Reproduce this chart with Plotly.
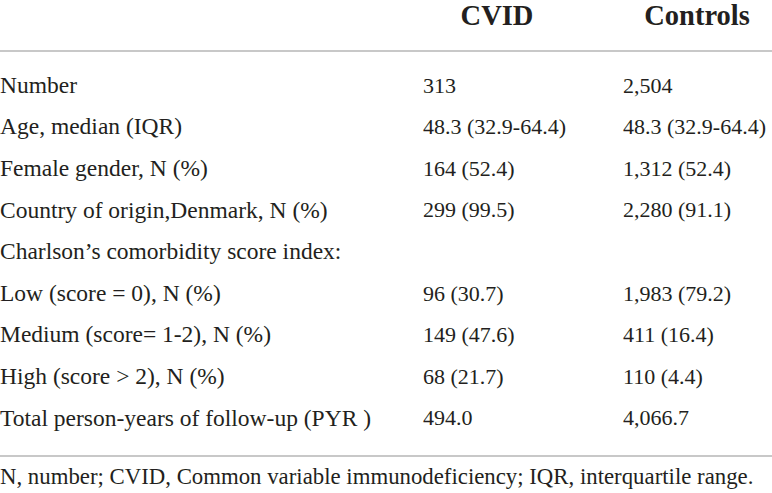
import plotly.graph_objects as go

# table content
columns = ["CVID", "Controls"]
row_labels = [
    "Number",
    "Age, median (IQR)",
    "Female gender, N (%)",
    "Country of origin,Denmark, N (%)",
    "Charlson’s comorbidity score index:",
    "Low (score = 0), N (%)",
    "Medium (score= 1-2), N (%)",
    "High (score > 2), N (%)",
    "Total person-years of follow-up (PYR )",
]
cvid_vals = ["313", "48.3 (32.9-64.4)", "164 (52.4)", "299 (99.5)", "",
             "96 (30.7)", "149 (47.6)", "68 (21.7)", "494.0"]
control_vals = ["2,504", "48.3 (32.9-64.4)", "1,312 (52.4)", "2,280 (91.1)", "",
                "1,983 (79.2)", "411 (16.4)", "110 (4.4)", "4,066.7"]
footnote = "N, number; CVID, Common variable immunodeficiency; IQR, interquartile range."

# layout
W, H = 772, 493
x_label, x_cvid, x_ctrl = 0, 423, 623
col_w = 148
row_top, row_step = 87, 41.6
rows = list(range(len(row_labels)))
y_top = -row_top / row_step
y_bot = (H - row_top) / row_step
def ypix(p):
    return (p - row_top) / row_step

serif = "Liberation Serif, Times New Roman, serif"
label_font = dict(family=serif, size=23.5, color="#231f20")
value_font = dict(family=serif, size=22, color="#231f20")
head_font = dict(family=serif, size=28.5, color="#231f20")

fig = go.Figure()
fig.add_trace(go.Scatter(x=[x_label] * len(rows), y=rows, text=row_labels,
                         mode="text", textposition="middle right",
                         textfont=label_font, hoverinfo="skip", cliponaxis=False))
fig.add_trace(go.Scatter(x=[x_cvid] * len(rows), y=rows, text=cvid_vals,
                         mode="text", textposition="middle right",
                         textfont=value_font, hoverinfo="skip", cliponaxis=False))
fig.add_trace(go.Scatter(x=[x_ctrl] * len(rows), y=rows, text=control_vals,
                         mode="text", textposition="middle right",
                         textfont=value_font, hoverinfo="skip", cliponaxis=False))
# header
fig.add_trace(go.Scatter(x=[x_cvid + col_w / 2, x_ctrl + col_w / 2],
                         y=[ypix(18)] * 2, text=["<b>%s</b>" % c for c in columns],
                         mode="text", textposition="middle center",
                         textfont=head_font, hoverinfo="skip", cliponaxis=False))
# footnote
fig.add_trace(go.Scatter(x=[x_label], y=[ypix(478)], text=[footnote],
                         mode="text", textposition="middle right",
                         textfont=dict(family=serif, size=22.8, color="#231f20"),
                         hoverinfo="skip", cliponaxis=False))

# rules
for yp in [51, 456]:
    fig.add_shape(type="line", xref="paper", x0=0, x1=1, yref="y",
                  y0=ypix(yp), y1=ypix(yp),
                  line=dict(color="#c8c8c8", width=2))

fig.update_layout(
    width=W, height=H,
    margin=dict(l=0, r=0, t=0, b=0),
    paper_bgcolor="white", plot_bgcolor="white",
    showlegend=False,
    xaxis=dict(range=[0, W], visible=False, fixedrange=True),
    yaxis=dict(range=[y_bot, y_top], visible=False, fixedrange=True),
)
fig.write_html("out.html", config={"displayModeBar": False},
               post_script="document.body.style.margin='0';")
